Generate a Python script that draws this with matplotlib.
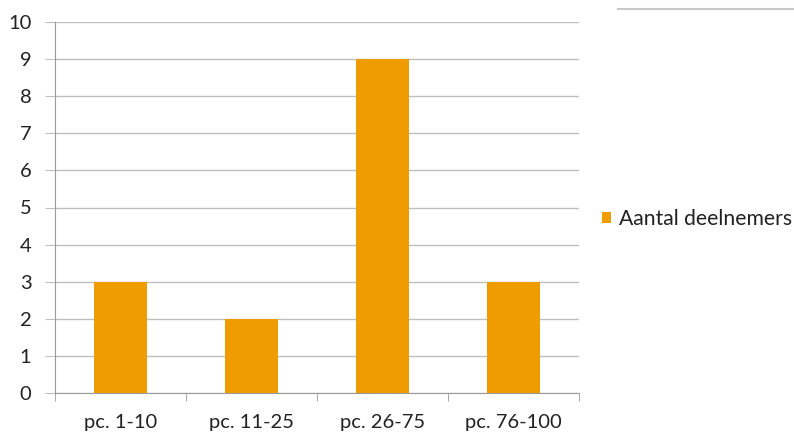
import matplotlib.pyplot as plt
from matplotlib.lines import Line2D

categories = ['pc. 1-10', 'pc. 11-25', 'pc. 26-75', 'pc. 76-100']
deelnemers = [3, 2, 9, 3]
series_name = 'Aantal deelnemers'

plt.rcParams['font.family'] = ['Lato', 'DejaVu Sans']

fig = plt.figure(figsize=(7.94, 4.33), dpi=100)
W, H = 794, 433
ax = fig.add_axes([55 / W, 40 / H, (579 - 55) / W, (393 - 22) / H])

x = range(len(categories))
ax.bar(x, deelnemers, width=0.4, color='#EF9C00', label=series_name, zorder=3)

ax.set_xlim(-0.5, len(categories) - 0.5)
ax.set_ylim(0, 10)
ax.set_yticks(range(0, 11))
ax.set_xticks(list(x))
ax.set_xticklabels(categories)
ax.set_xticks([i - 0.5 for i in range(len(categories) + 1)], minor=True)

ax.grid(axis='y', color='#BEBEBE', linewidth=1, zorder=0)
for s in ['top', 'right']:
    ax.spines[s].set_visible(False)
for s in ['left', 'bottom']:
    ax.spines[s].set_color('#9A9A9A')
ax.tick_params(axis='y', length=7, color='#BEBEBE', labelsize=14.5, colors='#222222', pad=10)
ax.tick_params(axis='x', which='major', length=0, labelsize=14.5, colors='#222222', pad=15)
ax.tick_params(axis='x', which='minor', length=6, color='#9A9A9A')

fig.legend(loc='center left', bbox_to_anchor=(602 / W, 1 - 219 / H), frameon=False,
           fontsize=15.2, handlelength=0.42, handleheight=0.42, handletextpad=0.4,
           borderpad=0, borderaxespad=0, labelcolor='#222222')

# faint strip of another window at top right
fig.add_artist(Line2D([618 / W, 1], [1 - 9 / H, 1 - 9 / H], color='#C8C8C8', linewidth=1.5))

fig.savefig('out.png', dpi=100)
